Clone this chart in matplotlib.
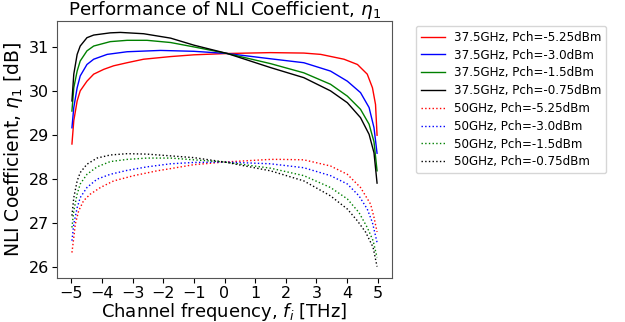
import matplotlib.pyplot as plt

# channel frequency [THz] and NLI coefficient [dB]
# 37.5 GHz spacing (solid)
x_red_375 = [-4.98, -4.92, -4.81, -4.71, -4.49, -4.27, -3.94, -3.62, -3.18, -2.64, -1.76, -1.00, 0.09, 1.50, 2.59, 3.14, 3.90, 4.34, 4.66, 4.83, 4.93, 4.98]
y_red_375 = [28.80, 29.33, 29.78, 30.01, 30.23, 30.39, 30.50, 30.58, 30.65, 30.73, 30.79, 30.83, 30.86, 30.88, 30.87, 30.84, 30.73, 30.61, 30.39, 30.08, 29.70, 29.00]

x_blue_375 = [-4.98, -4.92, -4.81, -4.71, -4.49, -4.27, -3.83, -3.18, -2.09, -1.00, 0.09, 1.50, 2.59, 3.46, 4.01, 4.44, 4.72, 4.88, 4.98]
y_blue_375 = [29.17, 29.63, 30.08, 30.35, 30.61, 30.73, 30.84, 30.90, 30.93, 30.91, 30.86, 30.74, 30.65, 30.46, 30.23, 29.97, 29.63, 29.17, 28.59]

x_green_375 = [-4.98, -4.92, -4.81, -4.71, -4.49, -4.27, -3.73, -3.18, -2.53, -1.76, -1.00, 0.09, 1.50, 2.59, 3.46, 4.01, 4.44, 4.72, 4.88, 4.98]
y_green_375 = [29.55, 30.08, 30.46, 30.69, 30.92, 31.03, 31.13, 31.16, 31.16, 31.11, 31.01, 30.86, 30.63, 30.42, 30.16, 29.89, 29.59, 29.25, 28.85, 28.19]

x_black_375 = [-4.98, -4.92, -4.81, -4.71, -4.49, -4.27, -3.73, -3.40, -2.64, -1.76, -1.00, 0.09, 1.50, 2.59, 3.46, 4.01, 4.44, 4.72, 4.88, 4.98]
y_black_375 = [29.78, 30.39, 30.84, 31.03, 31.22, 31.28, 31.33, 31.34, 31.31, 31.21, 31.05, 30.86, 30.54, 30.31, 30.01, 29.74, 29.40, 29.02, 28.60, 27.91]

# 50 GHz spacing (dotted)
x_red_50 = [-4.98, -4.92, -4.87, -4.76, -4.60, -4.38, -4.05, -3.62, -2.96, -2.20, -1.76, -1.00, 0.00, 1.50, 1.83, 2.59, 3.46, 4.01, 4.44, 4.77, 4.88, 4.98]
y_red_50 = [26.33, 26.67, 26.98, 27.28, 27.51, 27.66, 27.81, 27.96, 28.08, 28.19, 28.24, 28.33, 28.39, 28.45, 28.45, 28.44, 28.30, 28.11, 27.81, 27.43, 27.13, 26.80]

x_blue_50 = [-4.98, -4.92, -4.81, -4.71, -4.49, -4.16, -3.73, -3.18, -2.53, -1.76, -1.00, 0.00, 1.50, 2.59, 3.46, 4.01, 4.39, 4.66, 4.83, 4.98]
y_blue_50 = [26.60, 26.98, 27.35, 27.58, 27.81, 28.00, 28.11, 28.20, 28.28, 28.35, 28.38, 28.39, 28.35, 28.26, 28.08, 27.89, 27.62, 27.32, 27.01, 26.56]

x_green_50 = [-4.98, -4.92, -4.81, -4.71, -4.49, -4.16, -3.73, -3.18, -2.53, -1.76, -1.00, 0.00, 1.50, 2.59, 3.46, 4.01, 4.39, 4.66, 4.85, 4.98]
y_green_50 = [26.90, 27.28, 27.66, 27.89, 28.11, 28.28, 28.40, 28.45, 28.48, 28.48, 28.44, 28.39, 28.25, 28.08, 27.81, 27.55, 27.24, 26.90, 26.60, 26.22]

x_black_50 = [-4.98, -4.92, -4.81, -4.71, -4.49, -4.16, -3.73, -3.18, -2.53, -1.76, -1.00, 0.00, 1.50, 2.59, 3.46, 4.01, 4.34, 4.61, 4.85, 4.98]
y_black_50 = [27.17, 27.58, 27.96, 28.15, 28.34, 28.48, 28.55, 28.58, 28.57, 28.53, 28.49, 28.39, 28.19, 27.96, 27.62, 27.32, 27.05, 26.79, 26.45, 26.01]

labels_375 = ['37.5GHz, Pch=-5.25dBm', '37.5GHz, Pch=-3.0dBm', '37.5GHz, Pch=-1.5dBm', '37.5GHz, Pch=-0.75dBm']
labels_50 = ['50GHz, Pch=-5.25dBm', '50GHz, Pch=-3.0dBm', '50GHz, Pch=-1.5dBm', '50GHz, Pch=-0.75dBm']
colors = ['red', 'blue', 'green', 'black']

fig = plt.figure(figsize=(6.25, 3.22), dpi=100)
ax = fig.add_axes([0.0907, 0.1357, 0.537, 0.80])

solid = [(x_red_375, y_red_375), (x_blue_375, y_blue_375), (x_green_375, y_green_375), (x_black_375, y_black_375)]
dotted = [(x_red_50, y_red_50), (x_blue_50, y_blue_50), (x_green_50, y_green_50), (x_black_50, y_black_50)]

for (x, y), c, lab in zip(solid, colors, labels_375):
    ax.plot(x, y, color=c, linewidth=1, label=lab)
for (x, y), c, lab in zip(dotted, colors, labels_50):
    ax.plot(x, y, color=c, linewidth=1, linestyle=':', label=lab)

ax.set_xticks(range(-5, 6))
ax.tick_params(labelsize=11.5, pad=2)
for s in ax.spines.values():
    s.set_edgecolor('#555555')
ax.set_title(r'Performance of NLI Coefficient, $\eta_1$', fontsize=13.2, pad=1)
ax.set_xlabel(r'Channel frequency, $f_i$ [THz]', fontsize=13, labelpad=0)
ax.set_ylabel(r'NLI Coefficient, $\eta_1$ [dB]', fontsize=13.5, labelpad=3)

fig.legend(loc='upper left', bbox_to_anchor=(0.6656, 0.919), fontsize=8.6,
           borderaxespad=0, labelspacing=0.4)

plt.savefig('out.png', dpi=100)
